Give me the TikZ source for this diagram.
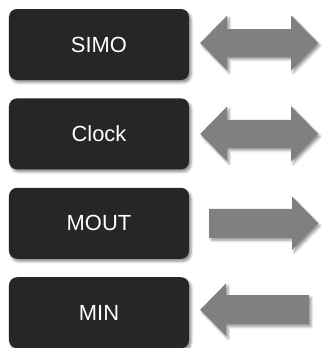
\documentclass[tikz,border=0pt]{standalone}
\usepackage{fontspec}
\setmainfont{Liberation Sans}
\usetikzlibrary{positioning,shadows.blur}

\definecolor{boxgray}{HTML}{262626}
\definecolor{arrowgray}{HTML}{808080}

\tikzset{
  signal/.style={shape=rectangle, rounded corners=8bp, fill=boxgray,
    text=white, font=\fontsize{22}{26}\selectfont,
    minimum width=180bp, minimum height=71bp, inner sep=0pt,
    blur shadow={shadow xshift=2bp, shadow yshift=-2.5bp,
      shadow blur radius=2.5bp, shadow opacity=45}},
  flow/.style={fill=arrowgray,
    blur shadow={shadow xshift=2bp, shadow yshift=-2.5bp,
      shadow blur radius=2.5bp, shadow opacity=40}},
  % both ways, centred on the pic origin
  pics/bothways/.style={code={
    \fill[flow] (-59,0) -- (-32,-27.5) -- (-32,-14) -- (32,-14)
      -- (32,-27.5) -- (59,0) -- (32,27.5) -- (32,14) -- (-32,14)
      -- (-32,27.5) -- cycle;}},
  % one way, pointing to +x
  pics/oneway/.style={code={
    \fill[flow] (-54.5,-14.5) -- (28.5,-14.5) -- (28.5,-26.5) -- (54.5,0)
      -- (28.5,26.5) -- (28.5,14.5) -- (-54.5,14.5) -- cycle;}}
}

\begin{document}
\begin{tikzpicture}[x=1bp, y=-1bp, node distance=18bp]
  \useasboundingbox (0,0) rectangle (327,348);

  % pin boxes
  \node[signal] (simo) at (99,44.5) {SIMO};
  \node[signal, below=of simo] (clock) {Clock};
  \node[signal, below=of clock] (mout) {MOUT};
  \node[signal, below=of mout] (min) {MIN};

  % direction of each pin
  \pic at ([xshift=70bp,yshift=1.5bp]simo.east) {bothways};
  \pic at ([xshift=70bp]clock.east) {bothways};
  \pic at ([xshift=74.5bp]mout.east) {oneway};
  \pic[xscale=-1] at ([xshift=65.5bp,yshift=3bp]min.east) {oneway};
\end{tikzpicture}
\end{document}
